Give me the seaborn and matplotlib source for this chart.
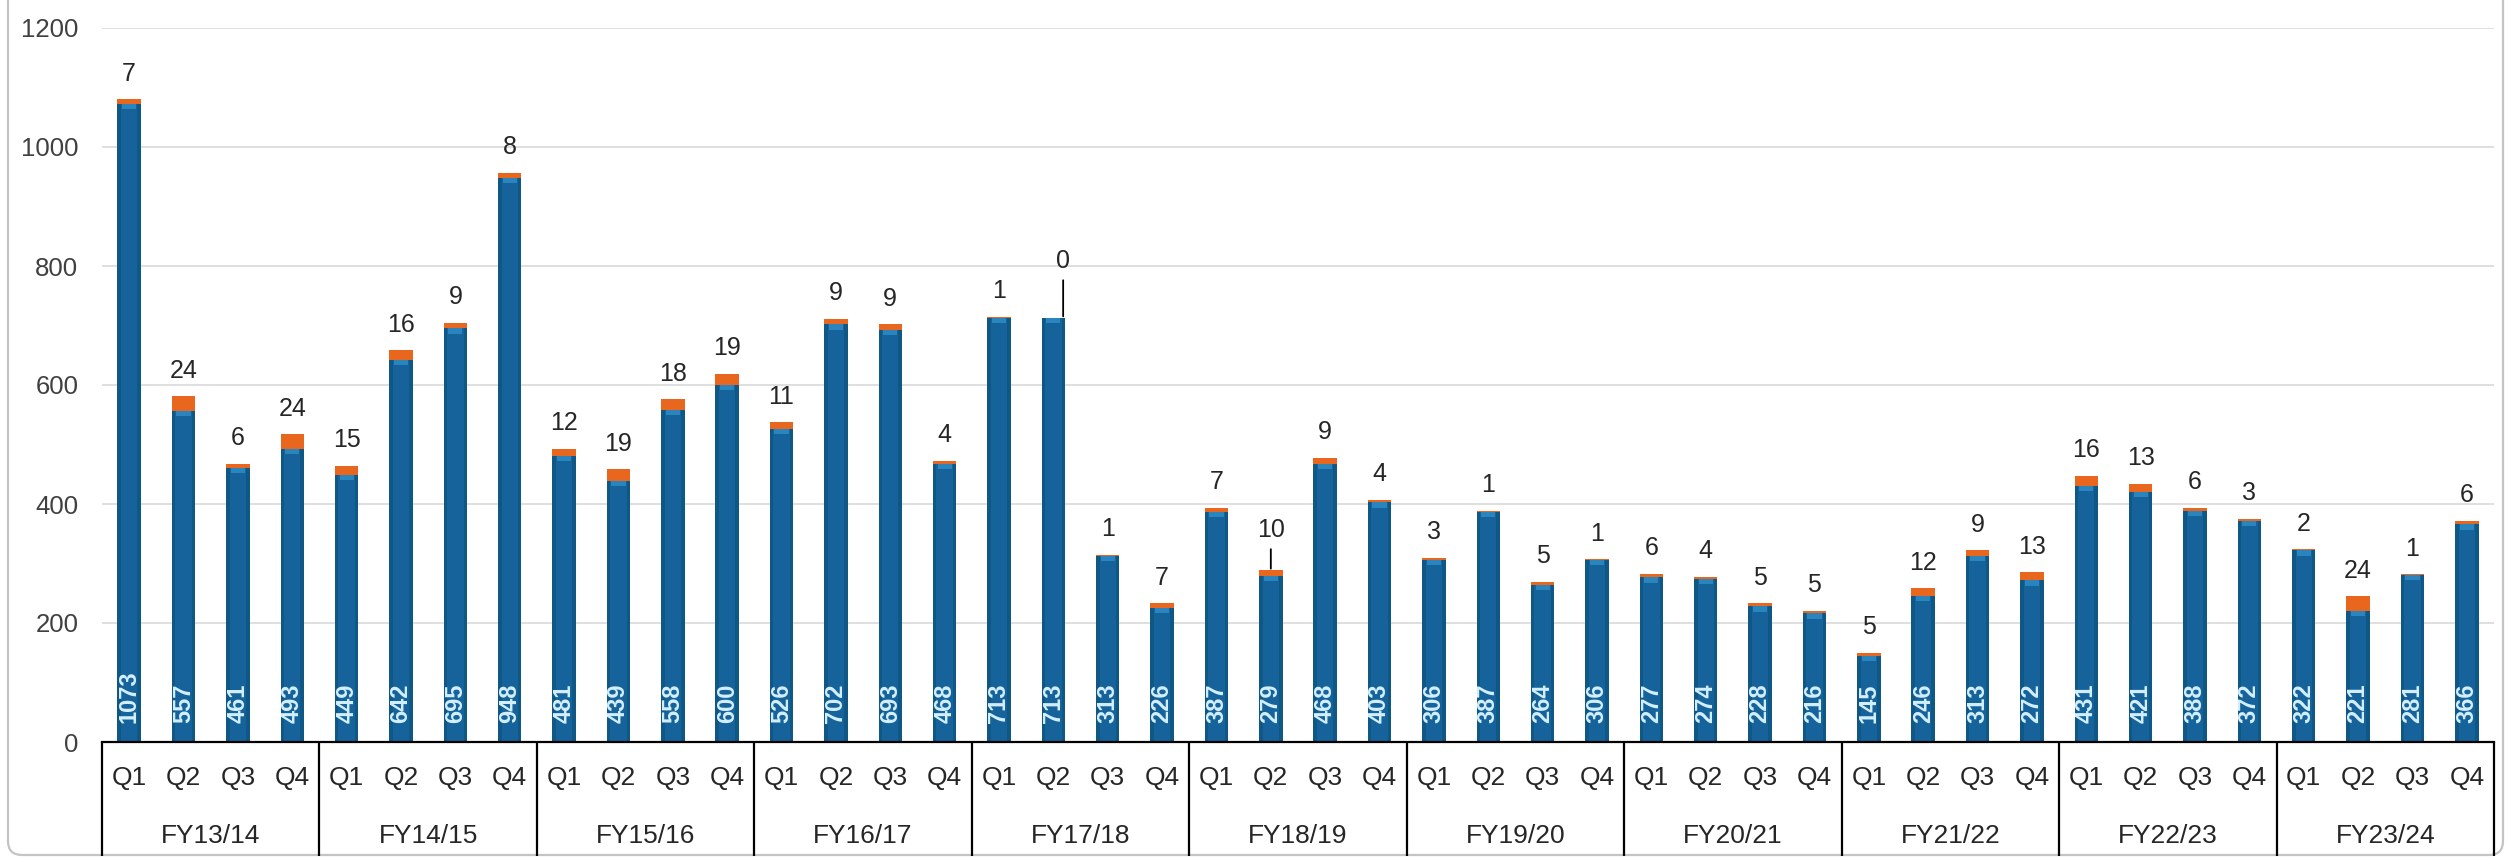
import numpy as np
import pandas as pd
import matplotlib
matplotlib.use("Agg")
import matplotlib.pyplot as plt
import matplotlib.transforms as mtransforms
from matplotlib.patches import FancyBboxPatch
import seaborn as sns

# ---------------- data ----------------
fiscal_years = ["FY13/14", "FY14/15", "FY15/16", "FY16/17", "FY17/18", "FY18/19",
                "FY19/20", "FY20/21", "FY21/22", "FY22/23", "FY23/24"]
quarters = ["Q1", "Q2", "Q3", "Q4"]

blue_values = [1073, 557, 461, 493,
               449, 642, 695, 948,
               481, 439, 558, 600,
               526, 702, 693, 468,
               713, 713, 313, 226,
               387, 279, 468, 403,
               306, 387, 264, 306,
               277, 274, 228, 216,
               145, 246, 313, 272,
               431, 421, 388, 372,
               322, 221, 281, 366]

orange_values = [7, 24, 6, 24,
                 15, 16, 9, 8,
                 12, 19, 18, 19,
                 11, 9, 9, 4,
                 1, 0, 1, 7,
                 7, 10, 9, 4,
                 3, 1, 5, 1,
                 6, 4, 5, 5,
                 5, 12, 9, 13,
                 16, 13, 6, 3,
                 2, 24, 1, 6]

y_ticks = [0, 200, 400, 600, 800, 1000, 1200]

# label placement tweaks (points above bar top) for labels with leader lines
LABEL_LIFT = {17: 41, 21: 29}
LEADER_TARGET_SHIFT = {17: 0.18, 21: 0.0}

# ---------------- style ----------------
sns.set_style("white")
plt.rcParams["font.family"] = ["Liberation Sans", "DejaVu Sans"]

ORANGE = "#e8661e"
BLUE_DARK = "#0f5784"
BLUE_MID = "#15639a"
BLUE_HI = "#2a84bd"
TEXT = "#262626"

periods = [f"{fy} {q}" for fy in fiscal_years for q in quarters]
df = pd.DataFrame({"period": periods, "blue": blue_values, "orange": orange_values})
df["total"] = df["blue"] + df["orange"]
df["hi_base"] = (df["blue"] - 9).clip(lower=0)

W, H = 2509, 858
fig = plt.figure(figsize=(W / 100, H / 100), dpi=100)
ax = fig.add_axes([102 / W, 116 / H, 2392 / W, 714 / H])

BAR_W = 0.43
common = dict(data=df, x="period", order=periods, saturation=1, errorbar=None,
              ax=ax, linewidth=0, edgecolor="none")
sns.barplot(y="total", color=ORANGE, width=BAR_W, **common)
sns.barplot(y="blue", color=BLUE_DARK, width=BAR_W, **common)
sns.barplot(y="blue", color=BLUE_MID, width=0.3, **common)
# soft highlight just under the orange cap
ax.bar(np.arange(len(df)), df["blue"] - df["hi_base"], bottom=df["hi_base"],
       width=0.26, color=BLUE_HI, linewidth=0, zorder=3)

ax.set_xlim(-0.5, len(df) - 0.5)
ax.set_ylim(0, 1200)
ax.set_yticks(y_ticks)
ax.set_yticklabels([str(t) for t in y_ticks], fontsize=18.5, color="#404040")
ax.yaxis.grid(True, color="#d9d9d9", linewidth=1.2)
ax.xaxis.grid(False)
ax.set_axisbelow(True)
for s in ["left", "right", "top"]:
    ax.spines[s].set_visible(False)
ax.spines["bottom"].set_color("black")
ax.spines["bottom"].set_linewidth(1.6)
ax.tick_params(axis="y", length=0, pad=17)
ax.set_xticks(np.arange(len(df)))
ax.set_xticklabels(quarters * len(fiscal_years), fontsize=19, color=TEXT)
ax.tick_params(axis="x", length=0, pad=17)
ax.set_xlabel("")
ax.set_ylabel("")

blend = mtransforms.blended_transform_factory(ax.transData, ax.transAxes)

# fiscal-year labels and separators
for g, fy in enumerate(fiscal_years):
    ax.text(4 * g + 1.5, -0.132, fy, transform=blend, ha="center", va="center",
            fontsize=19, color=TEXT)
for g in range(len(fiscal_years) + 1):
    xb = 4 * g - 0.5
    ax.plot([xb, xb], [0, -0.16], transform=blend, color="black", lw=1.6,
            clip_on=False, solid_capstyle="butt")

# values inside bars (rotated)
for i, v in enumerate(df["blue"]):
    ax.annotate(str(v), xy=(i, 0), xytext=(0, 13.5), textcoords="offset points",
                rotation=90, ha="center", va="bottom", fontsize=17,
                fontweight="bold", color="#d4f0ff", zorder=5)

# orange values above bars
for i, (t, o) in enumerate(zip(df["total"], df["orange"])):
    if i in LABEL_LIFT:
        ax.annotate(str(o), xy=(i + LEADER_TARGET_SHIFT[i], t),
                    xytext=(0, LABEL_LIFT[i]), textcoords="offset points",
                    ha="center", va="center", fontsize=18, color=TEXT,
                    arrowprops=dict(arrowstyle="-", color="black", lw=1.3,
                                    shrinkA=3, shrinkB=1), zorder=6)
    else:
        ax.annotate(str(o), xy=(i, t), xytext=(0, 18.5), textcoords="offset points",
                    ha="center", va="center", fontsize=18, color=TEXT, zorder=6)

# chart frame
frame = FancyBboxPatch((8, 3), 2495, 950, boxstyle="round,pad=0,rounding_size=14",
                       transform=mtransforms.IdentityTransform(), facecolor="none",
                       edgecolor="#c4c4c4", linewidth=1.6, zorder=0)
fig.add_artist(frame)

fig.savefig("out.png", dpi=100)
